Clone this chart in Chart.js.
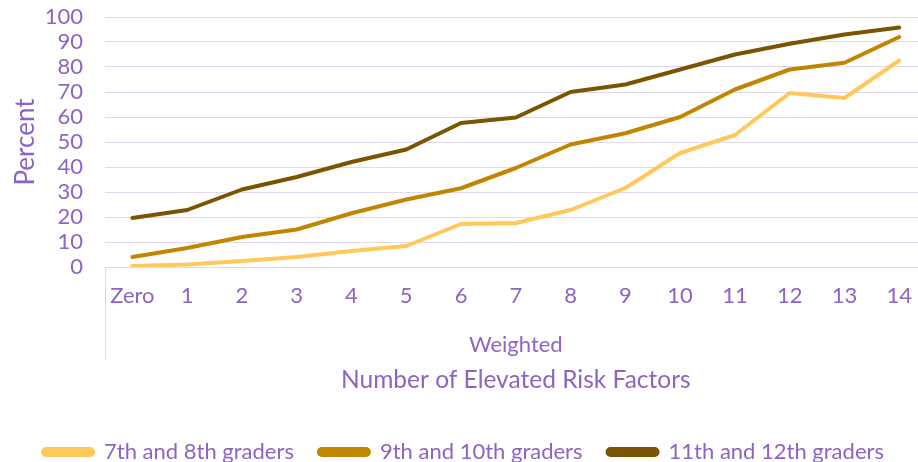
<!DOCTYPE html>
<html>
<head>
<meta charset="utf-8">
<script src="https://cdn.jsdelivr.net/npm/chart.js@4/dist/chart.umd.min.js"></script>
<style>
  html, body { margin: 0; padding: 0; background: #fff; overflow: hidden; width: 918px; height: 462px; }
  #wrap { position: absolute; left: 0; top: 0; width: 928px; height: 473px; }
</style>
</head>
<body>
<div id="wrap"><canvas id="c" width="928" height="473"></canvas></div>
<script>
const categories = ["Zero", "1", "2", "3", "4", "5", "6", "7", "8", "9", "10", "11", "12", "13", "14"];
const grades78   = [0.4, 1, 2.4, 4, 6.4, 8.4, 17.2, 17.6, 22.8, 31.6, 45.6, 52.8, 69.6, 67.6, 82.6];
const grades910  = [4, 7.6, 12, 15, 21.5, 27, 31.5, 39.6, 49, 53.5, 60, 71, 79, 81.7, 92];
const grades1112 = [19.6, 22.8, 31, 36, 42, 47, 57.6, 59.8, 70, 73, 79, 85, 89.3, 93, 95.8];
const seriesNames = ["7th and 8th graders", "9th and 10th graders", "11th and 12th graders"];
const yTickStep = 10;
const groupLabel = "Weighted";
const xTitle = "Number of Elevated Risk Factors";
const yTitle = "Percent";

const PURPLE = "#8D63C4";
const GRID = "#E2D8EF";
const FONT = "Lato, 'Open Sans', sans-serif";
const colors = ["#FFC85A", "#C08600", "#7A5400"];

const dividerPlugin = {
  id: "divider",
  afterDraw(chart) {
    const ctx = chart.ctx;
    const a = chart.chartArea;
    const x = chart.scales.x;
    ctx.save();
    ctx.strokeStyle = GRID;
    ctx.lineWidth = 1;
    ctx.beginPath();
    ctx.moveTo(a.left + 0.5, a.bottom);
    ctx.lineTo(a.left + 0.5, x.bottom - 2);
    ctx.stroke();
    ctx.restore();
  }
};

const data = {
  labels: categories,
  datasets: [grades78, grades910, grades1112].map((vals, i) => ({
    label: seriesNames[i],
    data: vals,
    borderColor: colors[i],
    backgroundColor: colors[i],
    borderWidth: 4,
    pointRadius: 0,
    pointHoverRadius: 0,
    tension: 0,
    borderCapStyle: "round",
    borderJoinStyle: "round"
  }))
};

new Chart(document.getElementById("c"), {
  type: "line",
  data,
  plugins: [dividerPlugin],
  options: {
    responsive: false,
    animation: false,
    layout: { padding: { top: 17, right: 1, left: 0, bottom: 0 } },
    plugins: {
      tooltip: { enabled: false },
      legend: {
        position: "bottom",
        labels: {
          color: PURPLE,
          font: { family: FONT, size: 22 },
          boxWidth: 50,
          boxHeight: 6,
          padding: 25,
          useBorderRadius: true,
          borderRadius: 3
        }
      }
    },
    scales: {
      x: {
        offset: true,
        grid: { display: false, drawTicks: false },
        border: { display: false },
        ticks: {
          color: PURPLE,
          font: { family: FONT, size: 22 },
          padding: 16,
          maxRotation: 0,
          autoSkip: false
        },
        title: {
          display: true,
          text: groupLabel,
          color: PURPLE,
          font: { family: FONT, size: 22 },
          padding: { top: 0, bottom: 4 }
        },
        afterFit(scale) { scale.height = 95; }
      },
      x2: {
        type: "category",
        position: "bottom",
        offset: true,
        grid: { display: false, drawTicks: false },
        border: { display: false },
        ticks: { display: false },
        title: {
          display: true,
          text: xTitle,
          color: PURPLE,
          font: { family: FONT, size: 24.5 },
          padding: { top: 0, bottom: 21 }
        },
        afterFit(scale) { scale.height = 54; }
      },
      y: {
        min: 0,
        max: 100,
        grid: { color: GRID, lineWidth: 1, drawTicks: true, tickLength: 22, tickColor: "rgba(0,0,0,0)" },
        border: { display: false },
        ticks: {
          stepSize: yTickStep,
          autoSkip: false,
          color: PURPLE,
          font: { family: FONT, size: 22 },
          padding: 0
        },
        title: {
          display: true,
          text: yTitle,
          color: PURPLE,
          font: { family: FONT, size: 26 },
          padding: { top: 10, bottom: 0 }
        },
        afterFit(scale) { scale.width = 105; }
      }
    }
  }
});
</script>
</body>
</html>
